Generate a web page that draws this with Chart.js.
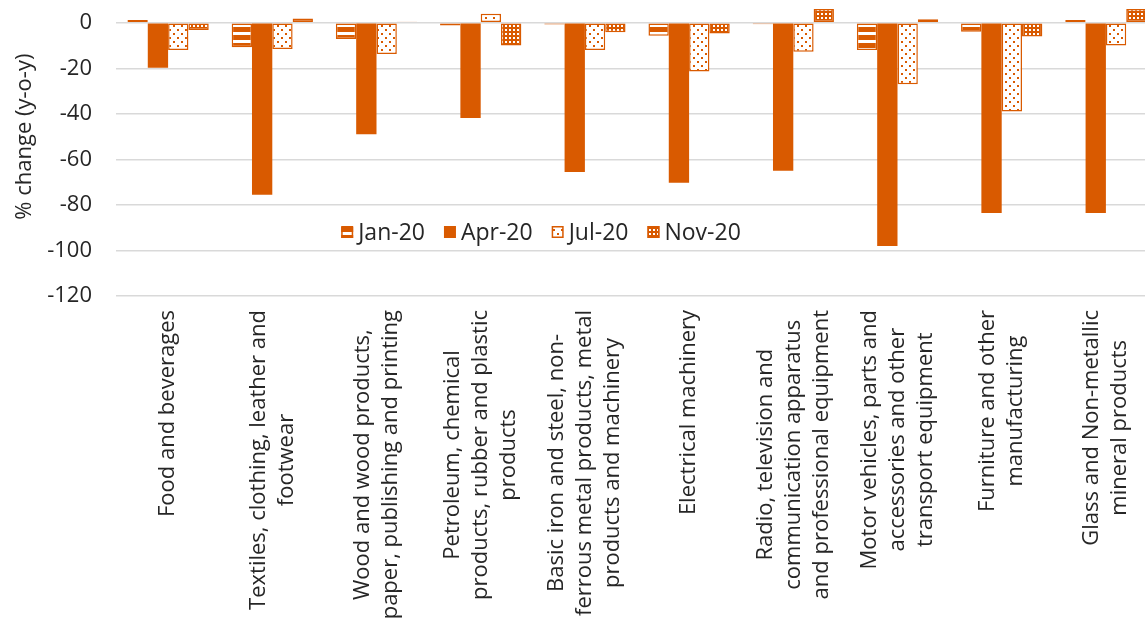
<!DOCTYPE html>
<html>
<head>
<meta charset="utf-8">
<script src="https://cdn.jsdelivr.net/npm/chart.js@4.4.1/dist/chart.umd.min.js"></script>
<style>
  html, body { margin: 0; padding: 0; background: #fff; overflow: hidden; width: 1145px; height: 628px; }
  #wrap { position: absolute; left: 0; top: -60px; width: 1160px; height: 700px; }
</style>
</head>
<body>
<div id="wrap"><canvas id="sectorChart"></canvas></div>
<script>
const categories = [
  ['Food and beverages'],
  ['Textiles, clothing, leather and', 'footwear'],
  ['Wood and wood products,', 'paper, publishing and printing'],
  ['Petroleum, chemical', 'products, rubber and plastic', 'products'],
  ['Basic iron and steel, non-', 'ferrous metal products, metal', 'products and machinery'],
  ['Electrical machinery'],
  ['Radio, television and', 'communication apparatus', 'and professional equipment'],
  ['Motor vehicles, parts and', 'accessories and other', 'transport equipment'],
  ['Furniture and other', 'manufacturing'],
  ['Glass and Non-metallic', 'mineral products']
];
const seriesNames = ['Jan-20', 'Apr-20', 'Jul-20', 'Nov-20'];
const jan20 = [1.2, -10.8, -7.1, -1.2, -0.8, -5.7, -0.7, -12, -4, 1.2];
const apr20 = [-19.8, -75.5, -49, -41.8, -65.5, -70.3, -65, -98, -83.5, -83.5];
const jul20 = [-12, -11.5, -13.7, 4, -12, -21.4, -12.7, -27, -39, -10];
const nov20 = [-3.2, 1.9, 0.4, -10, -4.2, -4.7, 6, 1.5, -6, 6];
const yMin = -120, yMax = 20, yStep = 20;

const ORANGE = '#D95A00';
const TEXT = '#262626';
const FONT = '"Open Sans", "Noto Sans", sans-serif';

// small tiled fills that mimic the Excel pattern fills
function makePattern(kind) {
  const c = document.createElement('canvas');
  const g = c.getContext('2d');
  if (kind === 'horiz') {
    c.width = 8; c.height = 8;
    g.fillStyle = ORANGE; g.fillRect(0, 0, 8, 8);
    g.fillStyle = '#fff'; g.fillRect(0, 4, 8, 3);
  } else if (kind === 'dots') {
    c.width = 8; c.height = 8;
    g.fillStyle = '#fff'; g.fillRect(0, 0, 8, 8);
    g.fillStyle = ORANGE;
    g.fillRect(1, 1, 2, 2);
    g.fillRect(5, 5, 2, 2);
  } else {
    c.width = 4; c.height = 4;
    g.fillStyle = ORANGE; g.fillRect(0, 0, 4, 4);
    g.fillStyle = '#fff';
    g.fillRect(1, 1, 2, 2);
  }
  return g.createPattern(c, 'repeat');
}

const fills = [makePattern('horiz'), ORANGE, makePattern('dots'), makePattern('grid')];

const xLabelPlugin = {
  id: 'xLabels',
  afterDraw(chart) {
    const { ctx, chartArea, scales: { x } } = chart;
    ctx.save();
    ctx.font = '22px ' + FONT;
    ctx.fillStyle = TEXT;
    ctx.textAlign = 'center';
    ctx.textBaseline = 'middle';
    categories.forEach((lines, i) => {
      const cx = x.getPixelForValue(i);
      const w = Math.max(...lines.map(l => ctx.measureText(l).width));
      const top = chartArea.bottom + 14;
      ctx.save();
      ctx.translate(cx, top + w / 2);
      ctx.rotate(-Math.PI / 2);
      lines.forEach((l, j) => ctx.fillText(l, 0, (j - (lines.length - 1) / 2) * 28));
      ctx.restore();
    });
    ctx.restore();
  }
};

const legendPlugin = {
  id: 'innerLegend',
  afterDatasetsDraw(chart) {
    const { ctx, chartArea } = chart;
    ctx.save();
    ctx.font = '23px ' + FONT;
    ctx.textBaseline = 'middle';
    ctx.textAlign = 'left';
    const box = 12, gapText = 5, gapItem = 19;
    const widths = seriesNames.map(n => box + gapText + ctx.measureText(n).width);
    const total = widths.reduce((a, b) => a + b, 0) + gapItem * (seriesNames.length - 1);
    let xPos = chartArea.left + 425 - total / 2;
    const yc = chartArea.bottom - 64;
    seriesNames.forEach((name, i) => {
      ctx.fillStyle = fills[i];
      ctx.fillRect(xPos, yc - box / 2, box, box);
      if (i !== 1) {
        ctx.strokeStyle = ORANGE;
        ctx.lineWidth = 1.5;
        ctx.strokeRect(xPos + 0.75, yc - box / 2 + 0.75, box - 1.5, box - 1.5);
      }
      ctx.fillStyle = TEXT;
      ctx.fillText(name, xPos + box + gapText, yc + 1);
      xPos += widths[i] + gapItem;
    });
    ctx.restore();
  }
};

const seriesData = [jan20, apr20, jul20, nov20];

new Chart(document.getElementById('sectorChart'), {
  type: 'bar',
  data: {
    labels: categories,
    datasets: seriesNames.map((name, i) => ({
      label: name,
      data: seriesData[i],
      backgroundColor: fills[i],
      borderColor: ORANGE,
      borderWidth: i === 1 ? 0 : 1.5,
      borderSkipped: false
    }))
  },
  options: {
    responsive: true,
    maintainAspectRatio: false,
    animation: false,
    layout: { padding: { top: 14, right: 2, bottom: 336, left: 0 } },
    datasets: { bar: { barPercentage: 1, categoryPercentage: 0.78 } },
    plugins: {
      legend: { display: false },
      tooltip: { enabled: false }
    },
    scales: {
      x: {
        grid: { display: false },
        border: { display: false },
        ticks: { display: false }
      },
      y: {
        min: yMin,
        max: yMax,
        afterFit(scale) { scale.width = 116; },
        ticks: { stepSize: yStep, padding: 24, color: TEXT, font: { family: FONT, size: 22 } },
        grid: { color: '#d9d9d9', lineWidth: 1.5, drawTicks: false },
        border: { display: false },
        title: {
          display: true,
          text: '% change (y-o-y)',
          color: TEXT,
          font: { family: FONT, size: 22 },
          padding: { top: 12, bottom: 0 }
        }
      }
    }
  },
  plugins: [xLabelPlugin, legendPlugin]
});
</script>
</body>
</html>
